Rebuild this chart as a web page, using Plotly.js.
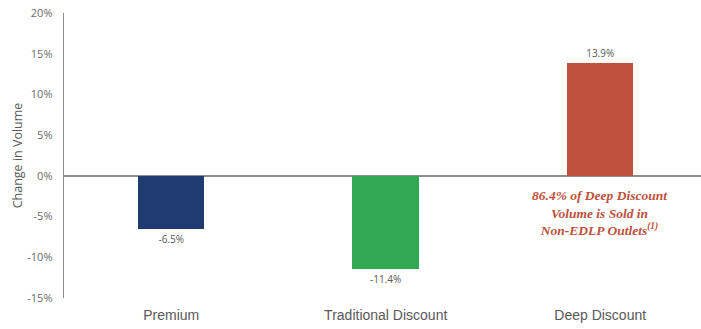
<!DOCTYPE html>
<html>
<head>
<meta charset="utf-8">
<script src="https://cdn.plot.ly/plotly-3.0.1.min.js"></script>
<style>html,body{margin:0;padding:0;background:#fff;}#chart{width:701px;height:329px;}</style>
</head>
<body>
<div id="chart"></div>
<script>
const categories = ["Premium", "Traditional Discount", "Deep Discount"];
const changeInVolume = [-6.5, -11.4, 13.9];
const barColors = ["#203b6f", "#30a952", "#c0513d"];
const yTickValues = [-15, -10, -5, 0, 5, 10, 15, 20];
const yTickLabels = ["-15%", "-10%", "-5%", "0%", "5%", "10%", "15%", "20%"];
const noteText = "86.4% of Deep Discount<br>Volume is Sold in<br>Non-EDLP Outlets<sup>(1)</sup>";

const trace = {
  type: "bar",
  x: categories,
  y: changeInVolume,
  marker: {color: barColors},
  width: 0.31,
  text: changeInVolume.map(v => v.toFixed(1) + "%"),
  textposition: "outside",
  textfont: {family: "Open Sans, sans-serif", size: 10, color: "#595959"},
  cliponaxis: false,
  hoverinfo: "skip"
};

const layout = {
  width: 701, height: 329,
  margin: {l: 64, r: 0, t: 13, b: 31},
  paper_bgcolor: "#fff", plot_bgcolor: "#fff",
  showlegend: false,
  bargap: 0,
  xaxis: {
    type: "category",
    range: [-0.5, 2.47],
    showgrid: false, zeroline: false, showline: false,
    ticks: "", ticklabelstandoff: 7,
    tickfont: {family: "Liberation Sans, Arial, sans-serif", size: 14, color: "#595959"},
    fixedrange: true
  },
  yaxis: {
    range: [-15, 20],
    tickvals: yTickValues,
    ticktext: yTickLabels,
    showgrid: false,
    zeroline: true, zerolinecolor: "#8c8c8c", zerolinewidth: 1.3,
    showline: true, linecolor: "#8c8c8c", linewidth: 1.3,
    ticks: "", ticklabelstandoff: 8,
    tickfont: {family: "Open Sans, sans-serif", size: 11, color: "#6b6b6b"},
    title: {text: "Change in Volume", font: {family: "Open Sans, sans-serif", size: 12.5, color: "#595959"}, standoff: 2},
    fixedrange: true
  },
  annotations: [{
    x: 2, y: -1.3, xref: "x", yref: "y",
    text: noteText,
    showarrow: false,
    align: "center",
    yanchor: "top",
    font: {family: "Liberation Serif, DejaVu Serif, serif", size: 13.5, color: "#c0503d", style: "italic", weight: "bold"}
  }]
};

Plotly.newPlot("chart", [trace], layout, {displayModeBar: false, staticPlot: true});
</script>
</body>
</html>
